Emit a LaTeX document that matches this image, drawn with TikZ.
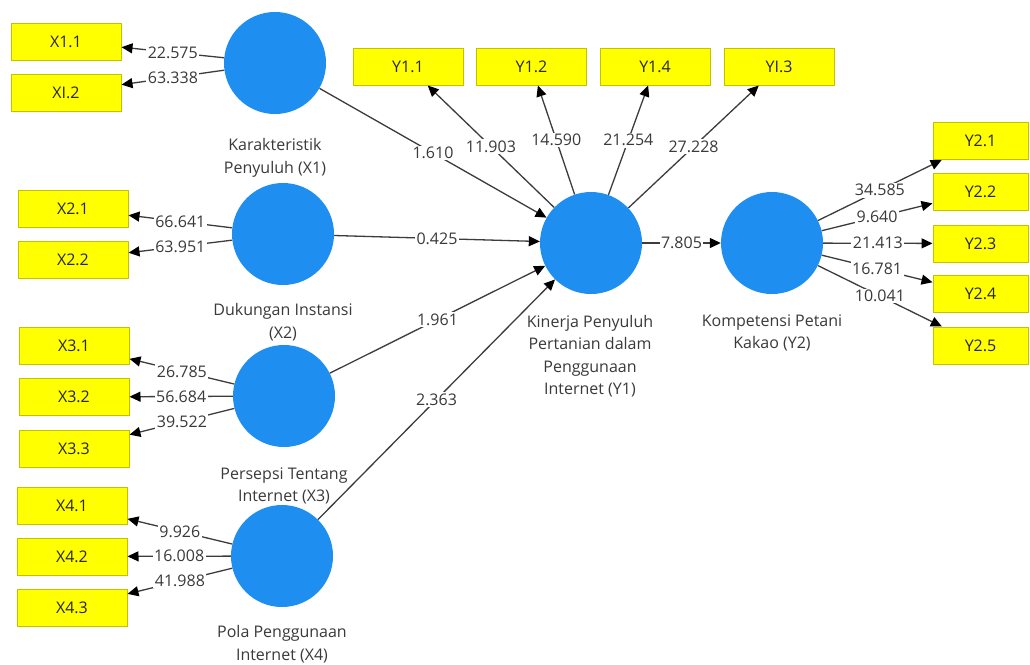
\documentclass[tikz,border=0pt]{standalone}
\usepackage{fontspec}
\setmainfont{Open Sans}
\usetikzlibrary{arrows.meta}
\definecolor{lvblue}{HTML}{1E8EF0}
\definecolor{boxyel}{HTML}{FFFF00}
\definecolor{boxedge}{HTML}{C2C200}
\definecolor{txtgray}{HTML}{3A3A3A}
\definecolor{linegray}{HTML}{3C3C3C}
\begin{document}
\begin{tikzpicture}[x=1pt,y=-1pt,
  latent/.style={circle,fill=lvblue,minimum size=102pt,inner sep=0pt},
  ind/.style={rectangle,fill=boxyel,draw=boxedge,line width=1pt,minimum width=110pt,minimum height=37pt,inner sep=0pt,text=black!85,font=\fontsize{16}{18}\selectfont},
  indr/.style={ind,minimum width=95pt},
  lvcaption/.style={align=center,text=txtgray,font=\fontsize{16}{22.5}\selectfont,inner sep=0pt},
  arr/.style={draw=linegray,line width=1.3pt,-{Triangle[length=11pt,width=10pt,color=black,fill=black]}},
  lbl/.style={fill=white,text=txtgray,font=\fontsize{16}{18}\selectfont,inner sep=1.5pt,pos=0.5}]
\useasboundingbox (0,0) rectangle (1030,664);
\fill[white] (0,0) rectangle (1030,664);
% latent variables
\node[latent] (x1) at (275,63) {};
\node[latent] (x2) at (283,234) {};
\node[latent] (x3) at (284,396) {};
\node[latent] (x4) at (282,556) {};
\node[latent] (y1) at (591,243) {};
\node[latent] (y2) at (772,243) {};
% captions
\node[lvcaption] (cx1) at (275,158) {Karakteristik\\Penyuluh (X1)};
\node[lvcaption] (cx2) at (283,322) {Dukungan Instansi\\(X2)};
\node[lvcaption] (cx3) at (284,486) {Persepsi Tentang\\Internet (X3)};
\node[lvcaption] (cx4) at (282,644) {Pola Penggunaan\\Internet (X4)};
\node[lvcaption] (cy1) at (590,356) {Kinerja Penyuluh\\Pertanian dalam\\Penggunaan\\Internet (Y1)};
\node[lvcaption] (cy2) at (772,333) {Kompetensi Petani\\Kakao (Y2)};
% indicators
\node[ind] (x11) at (66,41.5) {X1.1};
\node[ind] (x12) at (66,92.5) {XI.2};
\node[ind] (x21) at (73,208.5) {X2.1};
\node[ind] (x22) at (73,259.5) {X2.2};
\node[ind] (x31) at (74,345.5) {X3.1};
\node[ind] (x32) at (74,397) {X3.2};
\node[ind] (x33) at (74,448.5) {X3.3};
\node[ind] (x41) at (72,505.5) {X4.1};
\node[ind] (x42) at (72,556.5) {X4.2};
\node[ind] (x43) at (72,607.5) {X4.3};
\node[ind] (y11) at (408,66.5) {Y1.1};
\node[ind] (y12) at (531.5,66.5) {Y1.2};
\node[ind] (y14) at (655,66.5) {Y1.4};
\node[ind] (y13) at (779,66.5) {YI.3};
\node[indr] (y21) at (980.5,141) {Y2.1};
\node[indr] (y22) at (980.5,191.5) {Y2.2};
\node[indr] (y23) at (980.5,243.5) {Y2.3};
\node[indr] (y24) at (980.5,294) {Y2.4};
\node[indr] (y25) at (980.5,345.5) {Y2.5};
% outer loadings
\draw[arr] (x1) -- node[lbl]{22.575} (x11);
\draw[arr] (x1) -- node[lbl]{63.338} (x12);
\draw[arr] (x2) -- node[lbl]{66.641} (x21);
\draw[arr] (x2) -- node[lbl]{63.951} (x22);
\draw[arr] (x3) -- node[lbl]{26.785} (x31);
\draw[arr] (x3) -- node[lbl]{56.684} (x32);
\draw[arr] (x3) -- node[lbl]{39.522} (x33);
\draw[arr] (x4) -- node[lbl]{9.926} (x41);
\draw[arr] (x4) -- node[lbl]{16.008} (x42);
\draw[arr] (x4) -- node[lbl]{41.988} (x43);
\draw[arr] (y1) -- node[lbl]{11.903} (y11);
\draw[arr] (y1) -- node[lbl]{14.590} (y12);
\draw[arr] (y1) -- node[lbl]{21.254} (y14);
\draw[arr] (y1) -- node[lbl]{27.228} (y13);
\draw[arr] (y2) -- node[lbl]{34.585} (y21);
\draw[arr] (y2) -- node[lbl]{9.640} (y22);
\draw[arr] (y2) -- node[lbl]{21.413} (y23);
\draw[arr] (y2) -- node[lbl]{16.781} (y24);
\draw[arr] (y2) -- node[lbl]{10.041} (y25);
% inner model
\draw[arr] (x1) -- node[lbl]{1.610} (y1);
\draw[arr] (x2) -- node[lbl]{0.425} (y1);
\draw[arr] (x3) -- node[lbl]{1.961} (y1);
\draw[arr] (x4) -- node[lbl]{2.363} (y1);
\draw[arr] (y1) -- node[lbl]{7.805} (y2);
\end{tikzpicture}
\end{document}
